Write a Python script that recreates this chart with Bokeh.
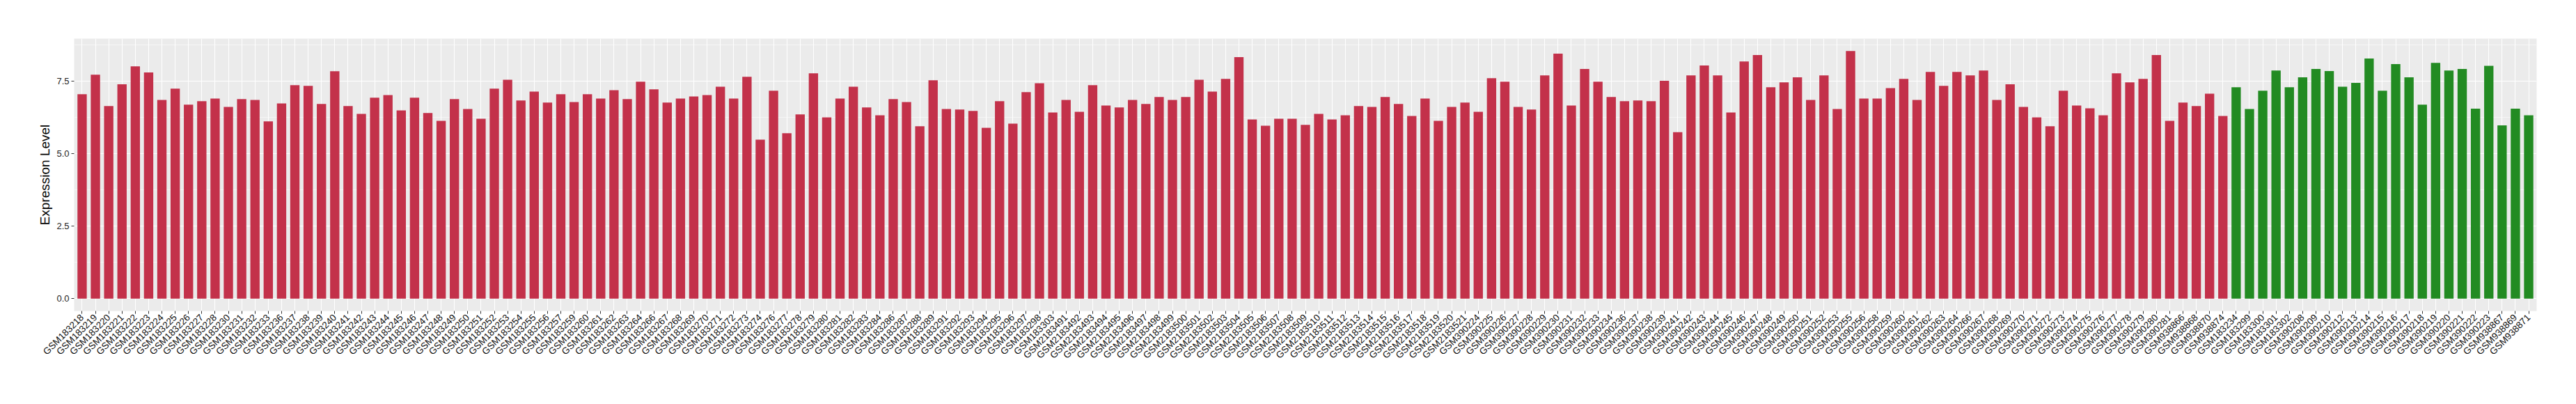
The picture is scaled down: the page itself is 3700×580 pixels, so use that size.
import math
from bokeh.plotting import figure
from bokeh.models import FactorRange, Range1d, FixedTicker, NumeralTickFormatter, ColumnDataSource
from bokeh.embed import file_html
from bokeh.resources import INLINE

# ---- data ----
red_samples = [
    "GSM183218", "GSM183219", "GSM183220", "GSM183221", "GSM183222", "GSM183223", "GSM183224",
    "GSM183225", "GSM183226", "GSM183227", "GSM183228", "GSM183230", "GSM183231", "GSM183232",
    "GSM183233", "GSM183236", "GSM183237", "GSM183238", "GSM183239", "GSM183240", "GSM183241",
    "GSM183242", "GSM183243", "GSM183244", "GSM183245", "GSM183246", "GSM183247", "GSM183248",
    "GSM183249", "GSM183250", "GSM183251", "GSM183252", "GSM183253", "GSM183254", "GSM183255",
    "GSM183256", "GSM183257", "GSM183259", "GSM183260", "GSM183261", "GSM183262", "GSM183263",
    "GSM183264", "GSM183266", "GSM183267", "GSM183268", "GSM183269", "GSM183270", "GSM183271",
    "GSM183272", "GSM183273", "GSM183274", "GSM183276", "GSM183277", "GSM183278", "GSM183279",
    "GSM183280", "GSM183281", "GSM183282", "GSM183283", "GSM183284", "GSM183286", "GSM183287",
    "GSM183288", "GSM183289", "GSM183291", "GSM183292", "GSM183293", "GSM183294", "GSM183295",
    "GSM183296", "GSM183297", "GSM183298", "GSM183303",
    "GSM2183491", "GSM2183492", "GSM2183493", "GSM2183494", "GSM2183495", "GSM2183496",
    "GSM2183497", "GSM2183498", "GSM2183499", "GSM2183500", "GSM2183501", "GSM2183502",
    "GSM2183503", "GSM2183504", "GSM2183505", "GSM2183506", "GSM2183507", "GSM2183508",
    "GSM2183509", "GSM2183510", "GSM2183511", "GSM2183512", "GSM2183513", "GSM2183514",
    "GSM2183515", "GSM2183516", "GSM2183517", "GSM2183518", "GSM2183519", "GSM2183520",
    "GSM2183521",
    "GSM390224", "GSM390225", "GSM390226", "GSM390227", "GSM390228", "GSM390229", "GSM390230",
    "GSM390231", "GSM390232", "GSM390233", "GSM390234", "GSM390236", "GSM390237", "GSM390238",
    "GSM390239", "GSM390241", "GSM390242", "GSM390243", "GSM390244", "GSM390245", "GSM390246",
    "GSM390247", "GSM390248", "GSM390249", "GSM390250", "GSM390251", "GSM390252", "GSM390253",
    "GSM390255", "GSM390256", "GSM390258", "GSM390259", "GSM390260", "GSM390261", "GSM390262",
    "GSM390263", "GSM390264", "GSM390266", "GSM390267", "GSM390268", "GSM390269", "GSM390270",
    "GSM390271", "GSM390272", "GSM390273", "GSM390274", "GSM390275", "GSM390276", "GSM390277",
    "GSM390278", "GSM390279", "GSM390280", "GSM390281",
    "GSM938866", "GSM938868", "GSM938870", "GSM938874",
]
red_values = [
    7.06, 7.73, 6.65, 7.40, 8.02, 7.81, 6.86,
    7.25, 6.70, 6.82, 6.91, 6.62, 6.89, 6.86,
    6.12, 6.74, 7.37, 7.35, 6.72, 7.85, 6.65,
    6.38, 6.94, 7.03, 6.50, 6.94, 6.41, 6.14,
    6.89, 6.55, 6.21, 7.25, 7.56, 6.84, 7.15,
    6.77, 7.06, 6.79, 7.06, 6.91, 7.20, 6.89,
    7.49, 7.23, 6.77, 6.91, 6.98, 7.03, 7.32,
    6.91, 7.66, 5.49, 7.18, 5.71, 6.36, 7.78,
    6.26, 6.91, 7.32, 6.60, 6.33, 6.89, 6.79,
    5.95, 7.54, 6.55, 6.53, 6.48, 5.90, 6.82,
    6.04, 7.13, 7.44, 6.43,
    6.86, 6.45, 7.37, 6.67, 6.60, 6.86,
    6.72, 6.96, 6.86, 6.96, 7.56, 7.15,
    7.59, 8.34, 6.19, 5.97, 6.21, 6.21,
    6.00, 6.38, 6.19, 6.33, 6.65, 6.62,
    6.96, 6.72, 6.31, 6.91, 6.14, 6.62,
    6.77,
    6.45, 7.61, 7.49, 6.62, 6.53, 7.71, 8.46,
    6.67, 7.93, 7.49, 6.96, 6.82, 6.84, 6.82,
    7.52, 5.75, 7.71, 8.05, 7.71, 6.43, 8.19,
    8.41, 7.30, 7.47, 7.64, 6.86, 7.71, 6.55,
    8.55, 6.91, 6.91, 7.27, 7.59, 6.86, 7.83,
    7.35, 7.83, 7.71, 7.88, 6.86, 7.40, 6.62,
    6.26, 5.95, 7.18, 6.67, 6.57, 6.33, 7.78,
    7.47, 7.59, 8.41, 6.14,
    6.77, 6.65, 7.08, 6.31,
]
green_samples = [
    "GSM183234", "GSM183299", "GSM183300", "GSM183301", "GSM183302",
    "GSM390208", "GSM390209", "GSM390210", "GSM390212", "GSM390213", "GSM390214",
    "GSM390215", "GSM390216", "GSM390217", "GSM390218", "GSM390219", "GSM390220",
    "GSM390221", "GSM390222", "GSM390223",
    "GSM938867", "GSM938869", "GSM938871",
]
green_values = [
    7.30, 6.55, 7.18, 7.88, 7.30,
    7.64, 7.93, 7.86, 7.32, 7.45, 8.29,
    7.18, 8.10, 7.64, 6.70, 8.14, 7.88,
    7.93, 6.56, 8.04,
    5.98, 6.56, 6.33,
]
y_ticks = [0.0, 2.5, 5.0, 7.5]
y_minor = [1.25, 3.75, 6.25, 8.75]
RED = "#C3314A"
GREEN = "#228B22"

samples = red_samples + green_samples
values = red_values + green_values
colors = [RED] * len(red_samples) + [GREEN] * len(green_samples)
src = ColumnDataSource(dict(sample=samples, value=values, color=colors))

FONT = "Liberation Sans"
ymax = max(values)
pad = 0.05 * ymax

p = figure(
    x_range=FactorRange(factors=samples, range_padding=0.1, range_padding_units="absolute"),
    y_range=Range1d(-pad, ymax + pad),
    frame_width=3537, frame_height=391,
    min_border_left=106, min_border_right=41, min_border_top=55, min_border_bottom=118,
    output_backend="svg", toolbar_location=None,
    background_fill_color="#EBEBEB", border_fill_color="white",
)
p.outline_line_color = None

p.vbar(x="sample", top="value", bottom=0, width=0.7, fill_color="color", line_color=None, source=src)

# grid
p.xgrid.grid_line_color = "white"
p.xgrid.grid_line_width = 1.1
p.ygrid.grid_line_color = "white"
p.ygrid.grid_line_width = 1.1
p.ygrid.minor_grid_line_color = "white"
p.ygrid.minor_grid_line_width = 0.55

# y axis
p.yaxis.ticker = FixedTicker(ticks=y_ticks, minor_ticks=y_minor)
p.yaxis.formatter = NumeralTickFormatter(format="0.0")
p.yaxis.axis_label = "Expression Level"
p.yaxis.axis_label_text_font = FONT
p.yaxis.axis_label_text_font_style = "normal"
p.yaxis.axis_label_text_font_size = "19px"
p.yaxis.axis_label_text_color = "black"
p.yaxis.axis_label_standoff = 3
p.yaxis.major_label_text_font = FONT
p.yaxis.major_label_text_font_size = "13px"
p.yaxis.major_label_text_color = "#222222"
p.yaxis.major_label_standoff = 3
p.yaxis.minor_tick_line_color = None

# x axis
p.xaxis.major_label_orientation = math.pi / 4
p.xaxis.major_label_text_font = FONT
p.xaxis.major_label_text_font_size = "13.5px"
p.xaxis.major_label_text_color = "#111111"
p.xaxis.major_label_standoff = 3

for ax in (p.xaxis, p.yaxis):
    ax.axis_line_color = None
    ax.major_tick_line_color = "#333333"
    ax.major_tick_line_width = 1
    ax.major_tick_in = 0
    ax.major_tick_out = 4

open("out.html", "w").write(file_html(p, INLINE))
